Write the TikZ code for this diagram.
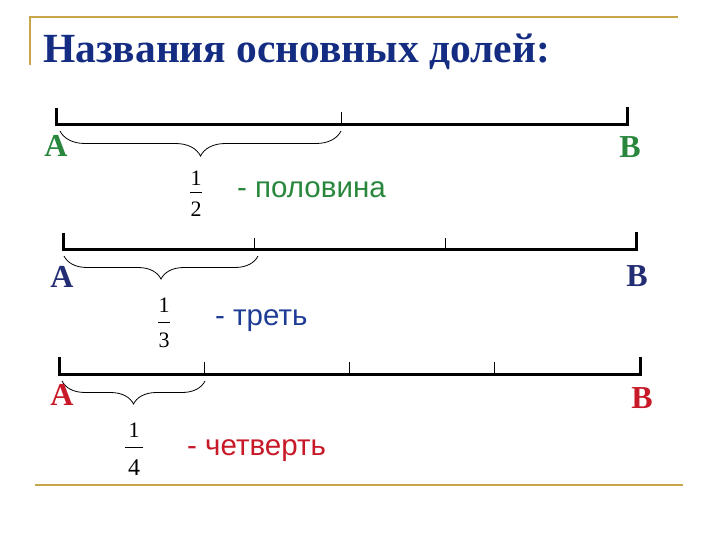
\documentclass[tikz,border=0pt]{standalone}
\usepackage{fontspec}
\setmainfont{Liberation Serif}
\newfontfamily\arialf{Liberation Sans}
\usetikzlibrary{decorations.pathreplacing}
\definecolor{gold}{RGB}{200,165,75}
\definecolor{titleblue}{RGB}{20,45,130}
\definecolor{lgreen}{RGB}{40,135,60}
\definecolor{lnavy}{RGB}{35,45,115}
\definecolor{lblue}{RGB}{30,60,150}
\definecolor{lred}{RGB}{200,25,40}
\begin{document}
\begin{tikzpicture}[x=1pt,y=-1pt,
 frameline/.style={gold, line width=2pt},
 axis/.style={line width=3pt, line join=miter},
 midtick/.style={line width=1pt},
 ptlabel/.style={font=\fontsize{32}{32}\selectfont\bfseries, anchor=base, inner sep=0pt},
 dig/.style={font=\fontsize{22}{22}\selectfont, anchor=base, inner sep=0pt},
 word/.style={font=\fontsize{29.5}{30}\selectfont\arialf, anchor=base west, inner sep=0pt},
 fracbar/.style={line width=0.9pt},
 brc/.style={decorate, decoration={brace, mirror, amplitude=#1}, line width=0.8pt},
]
\useasboundingbox (0,0) rectangle (720,540);

% frame
\draw[frameline] (30,65) -- (30,17.5) -- (678,17.5);
\draw[frameline] (35,485) -- (683,485);

% title
\node[anchor=base west, inner sep=0pt, text=titleblue,
      font=\fontsize{41.5}{42}\selectfont\bfseries] (title) at (43,63)
      {Названия основных долей:};

% ---------- line 1 : half ----------
\coordinate (a1) at (56,125);
\coordinate (b1) at (627,125);
\coordinate (a1t) at (56,108);
\coordinate (b1t) at (627,107);
\coordinate (m1) at (341.5,125);
\coordinate (m1t) at (341.5,112);
\draw[axis] (a1t) -- (a1) -- (b1) -- (b1t);
\draw[midtick] (m1t) -- (m1);
\coordinate (br1s) at (60,131);
\coordinate (br1e) at (341,131);
\draw[brc=25pt] (br1s) -- (br1e);
\node[ptlabel, text=lgreen] (A1) at (56,157) {A};
\node[ptlabel, text=lgreen] (B1) at (630,158) {B};
\node[dig] (n1) at (196,186) {1};
\node[dig] (d1) at (196,217) {2};
\draw[fracbar] (190,192) -- (202,192);
\node[word, text=lgreen] (w1) at (237,198) {- половина};

% ---------- line 2 : third ----------
\coordinate (a2) at (63,249);
\coordinate (b2) at (636,249);
\coordinate (a2t) at (63,233);
\coordinate (b2t) at (636,232);
\coordinate (m2a) at (254,249);
\coordinate (m2at) at (254,238);
\coordinate (m2b) at (445,249);
\coordinate (m2bt) at (445,238);
\draw[axis] (a2t) -- (a2) -- (b2) -- (b2t);
\draw[midtick] (m2at) -- (m2a);
\draw[midtick] (m2bt) -- (m2b);
\coordinate (br2s) at (64,256);
\coordinate (br2e) at (258,256);
\draw[brc=23pt] (br2s) -- (br2e);
\node[ptlabel, text=lnavy] (A2) at (62,287) {A};
\node[ptlabel, text=lnavy] (B2) at (637,286) {B};
\node[dig] (n2) at (164,312) {1};
\node[dig] (d2) at (164,347) {3};
\draw[fracbar] (158,322) -- (170,322);
\node[word, text=lblue] (w2) at (215,325) {- треть};

% ---------- line 3 : quarter ----------
\coordinate (a3) at (59,374);
\coordinate (b3) at (640,374);
\coordinate (a3t) at (59,357);
\coordinate (b3t) at (640,357);
\coordinate (m3a) at (204.25,374);
\coordinate (m3at) at (204.25,362);
\coordinate (m3b) at (349.5,374);
\coordinate (m3bt) at (349.5,362);
\coordinate (m3c) at (494.75,374);
\coordinate (m3ct) at (494.75,362);
\draw[axis] (a3t) -- (a3) -- (b3) -- (b3t);
\draw[midtick] (m3at) -- (m3a);
\draw[midtick] (m3bt) -- (m3b);
\draw[midtick] (m3ct) -- (m3c);
\coordinate (br3s) at (62,381);
\coordinate (br3e) at (205,381);
\draw[brc=23pt] (br3s) -- (br3e);
\node[ptlabel, text=lred] (A3) at (62,405) {A};
\node[ptlabel, text=lred] (B3) at (642,408) {B};
\node[dig] (n3) at (134,437) {1};
\node[dig, font=\fontsize{24}{24}\selectfont] (d3) at (134,475) {4};
\draw[fracbar] (125,447) -- (143,447);
\node[word, text=lred] (w3) at (187,455) {- четверть};
\end{tikzpicture}
\end{document}
